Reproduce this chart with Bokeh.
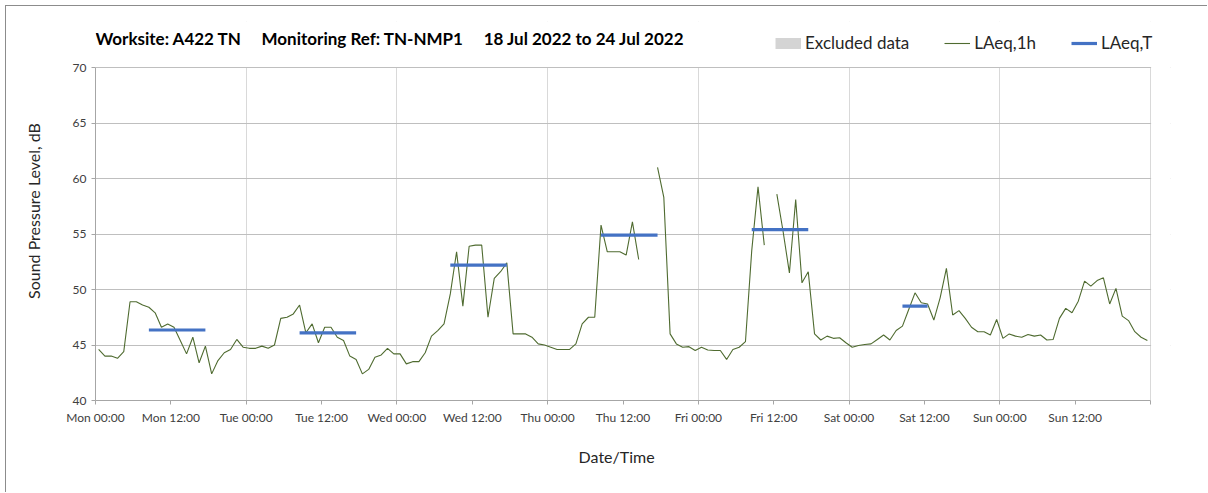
import numpy as np
import pandas as pd
from bokeh.plotting import figure
from bokeh.models import (FixedTicker, Legend, LegendItem, DatetimeTickFormatter,
                          Range1d, Label, BoxAnnotation)
from bokeh.embed import file_html
from bokeh.resources import INLINE

# ---------------- data ----------------
title_text = ("Worksite: A422 TN\u00a0\u00a0\u00a0\u00a0\u00a0Monitoring Ref: TN-NMP1"
              "\u00a0\u00a0\u00a0\u00a0\u00a018 Jul 2022 to 24 Jul 2022")
x_title = "Date/Time"
y_title = "Sound Pressure Level, dB"

nan = float("nan")
# hourly LAeq,1h values (Mon 00:30 ... Sun 23:30)
laeq_1h = [
    # Mon
    44.6, 44.0, 44.0, 43.8, 44.4, 48.9, 48.9, 48.6, 48.4, 47.9, 46.6, 46.9,
    46.6, 45.4, 44.2, 45.7, 43.4, 44.9, 42.4, 43.6, 44.3, 44.6, 45.5, 44.8,
    # Tue
    44.7, 44.7, 44.9, 44.7, 45.0, 47.4, 47.5, 47.8, 48.6, 46.1, 46.9, 45.2,
    46.6, 46.6, 45.7, 45.4, 44.0, 43.7, 42.4, 42.8, 43.9, 44.1, 44.7, 44.2,
    # Wed
    44.2, 43.3, 43.5, 43.5, 44.3, 45.8, 46.3, 46.9, 49.6, 53.4, 48.5, 53.9,
    54.0, 54.0, 47.5, 51.0, 51.6, 52.4, 46.0, 46.0, 46.0, 45.7, 45.1, 45.0,
    # Thu
    44.8, 44.6, 44.6, 44.6, 45.1, 46.9, 47.5, 47.5, 55.8, 53.4, 53.4, 53.4,
    53.1, 56.1, 52.7, nan, nan, 61.0, 58.3, 46.0, 45.1, 44.8, 44.85, 44.5,
    # Fri
    44.8, 44.55, 44.5, 44.5, 43.7, 44.6, 44.8, 45.3, 53.5, 59.25, 54.0, nan,
    58.6, 55.2, 51.5, 58.1, 50.6, 51.6, 46.0, 45.45, 45.8, 45.6, 45.65, 45.2,
    # Sat
    44.8, 44.95, 45.05, 45.1, 45.5, 45.9, 45.45, 46.3, 46.7, 48.2, 49.7, 48.8,
    48.7, 47.25, 49.25, 51.9, 47.7, 48.1, 47.4, 46.6, 46.2, 46.2, 45.9, 47.3,
    # Sun
    45.6, 46.0, 45.8, 45.7, 45.95, 45.8, 45.9, 45.45, 45.5, 47.4, 48.3, 47.9,
    48.95, 50.75, 50.3, 50.8, 51.05, 48.7, 50.1, 47.6, 47.2, 46.2, 45.7, 45.4,
]
first_time = "2022-07-18 00:30"

period_start = ["2022-07-18 08:30", "2022-07-19 08:30", "2022-07-20 08:30",
                "2022-07-21 08:30", "2022-07-22 08:30", "2022-07-23 08:30"]
period_end = ["2022-07-18 17:30", "2022-07-19 17:30", "2022-07-20 17:30",
              "2022-07-21 17:30", "2022-07-22 17:30", "2022-07-23 12:30"]
laeq_t = [46.35, 46.1, 52.2, 54.9, 55.4, 48.5]

# no data were excluded in this week
excluded_x = [nan]
excluded_y = [nan]

x_start = "2022-07-18 00:00"
x_end = "2022-07-25 00:00"
x_tick_labels = ["Mon 00:00", "Mon 12:00", "Tue 00:00", "Tue 12:00", "Wed 00:00",
                 "Wed 12:00", "Thu 00:00", "Thu 12:00", "Fri 00:00", "Fri 12:00",
                 "Sat 00:00", "Sat 12:00", "Sun 00:00", "Sun 12:00", ""]
y_ticks = [40, 45, 50, 55, 60, 65, 70]
y_min, y_max = 40, 70

legend_labels = ["Excluded data", "LAeq,1h", "LAeq,T"]

# ---------------- layout constants (pixels) ----------------
W, H = 1202, 487          # canvas (plus 5px margin + 1px border on left/top)
B_LEFT, B_RIGHT, B_TOP, B_BOTTOM = 89, 38, 15, 93
PLOT_H_REF = 333          # pixel height of 40..70 dB in the reference
PLOT_W_REF = 1055         # pixel width of the week in the reference
frame_h = H - B_TOP - B_BOTTOM
frame_w = W - B_LEFT - B_RIGHT


def ms(t):
    return pd.Timestamp(t).value / 1e6


x0_ms, x1_ms = ms(x_start), ms(x_end)
px_ms = (x1_ms - x0_ms) / PLOT_W_REF
px_db = (y_max - y_min) / PLOT_H_REF
x_view_end = x0_ms + frame_w * px_ms        # headroom on the right for the legend
y_view_end = y_min + frame_h * px_db        # headroom on top for title/legend

times = pd.date_range(first_time, periods=len(laeq_1h), freq="h")
x_ticks_ms = [ms(t) for t in pd.date_range(x_start, periods=len(x_tick_labels), freq="12h")]
day_ticks_ms = [ms(t) for t in pd.date_range(x_start, x_end, freq="D")]

FONT = "Lato"

p = figure(width=W, height=H, x_axis_type="datetime",
           output_backend="svg", toolbar_location=None,
           x_range=Range1d(x0_ms, x_view_end), y_range=Range1d(y_min, y_view_end),
           min_border_left=B_LEFT, min_border_right=B_RIGHT, min_border_top=B_TOP,
           min_border_bottom=B_BOTTOM)
p.styles = {"margin-left": "5px", "margin-top": "5px",
            "border-left": "1px solid #8c8c8c", "border-top": "1px solid #8c8c8c"}
p.outline_line_color = None
p.background_fill_color = "white"
p.border_fill_color = "white"
p.title.visible = False

# blank out the headroom outside the week / above 70 dB (hides grid lines there)
p.add_layout(BoxAnnotation(bottom=y_max + 0.6 * px_db, fill_color="white", fill_alpha=1.0,
                           line_color=None, level="underlay"))
p.add_layout(BoxAnnotation(left=x1_ms + 0.6 * px_ms, fill_color="white", fill_alpha=1.0,
                           line_color=None, level="underlay"))

# glyphs
r_excl = p.line(x=excluded_x, y=excluded_y, line_width=11, line_color="#d4d4d4")
r_1h = p.line(x=times, y=np.array(laeq_1h, dtype=float), line_color="#4f6b30",
              line_width=1.1)
r_t = p.segment(x0=pd.to_datetime(period_start), x1=pd.to_datetime(period_end),
                y0=laeq_t, y1=laeq_t, line_color="#4472c4", line_width=3.2)

# title (inside the headroom)
p.add_layout(Label(x=0, y=frame_h - (38 - 6 - B_TOP), x_units="screen", y_units="screen",
                   text=title_text, text_font=FONT, text_font_style="bold",
                   text_font_size="17px", text_color="#000000",
                   text_baseline="middle", text_align="left"))

# axes
xa = p.xaxis[0]
xa.ticker = FixedTicker(ticks=x_ticks_ms)
xa.bounds = (x0_ms, x1_ms)
xa.formatter = DatetimeTickFormatter(hours="%a %H:%M", days="%a %H:%M")
xa.major_label_overrides = {t: lab for t, lab in zip(x_ticks_ms, x_tick_labels)}
# trailing no-break spaces keep the centred label over the week, not the wider frame
xa.axis_label = x_title + "\u00a0" * 8
xa.axis_label_text_font = FONT
xa.axis_label_text_font_style = "normal"
xa.axis_label_text_font_size = "16px"
xa.axis_label_text_color = "#262626"
xa.axis_label_standoff = 19
xa.major_label_text_font = FONT
xa.major_label_text_font_size = "12px"
xa.major_label_text_color = "#404040"
xa.major_label_standoff = 5
xa.axis_line_color = "#a6a6a6"
xa.major_tick_line_color = "#a6a6a6"
xa.major_tick_out = 4
xa.major_tick_in = 0
xa.minor_tick_line_color = None

ya = p.yaxis[0]
ya.ticker = FixedTicker(ticks=y_ticks)
ya.bounds = (y_min, y_max)
ya.axis_label = y_title
ya.axis_label_text_font = FONT
ya.axis_label_text_font_style = "normal"
ya.axis_label_text_font_size = "16px"
ya.axis_label_text_color = "#262626"
ya.axis_label_standoff = 27
ya.major_label_text_font = FONT
ya.major_label_text_font_size = "12px"
ya.major_label_text_color = "#404040"
ya.major_label_standoff = 5
ya.axis_line_color = "#a6a6a6"
ya.major_tick_line_color = "#a6a6a6"
ya.major_tick_out = 4
ya.major_tick_in = 0
ya.minor_tick_line_color = None

# grids
p.xgrid.ticker = FixedTicker(ticks=day_ticks_ms)
p.xgrid.grid_line_color = "#d9d9d9"
p.ygrid.grid_line_color = "#bfbfbf"

# legend
legend = Legend(items=[LegendItem(label=legend_labels[0], renderers=[r_excl]),
                       LegendItem(label=legend_labels[1], renderers=[r_1h]),
                       LegendItem(label=legend_labels[2], renderers=[r_t])],
                orientation="horizontal", location=(775 - 95, 400 - 53))
legend.padding = 0
legend.margin = 0
legend.spacing = 35
legend.glyph_width = 26
legend.glyph_height = 20
legend.label_standoff = 4
legend.label_text_font = FONT
legend.label_text_font_size = "17px"
legend.label_text_color = "#262626"
legend.border_line_color = None
legend.background_fill_alpha = 0
p.add_layout(legend, "center")

open("out.html", "w").write(file_html(p, INLINE))
